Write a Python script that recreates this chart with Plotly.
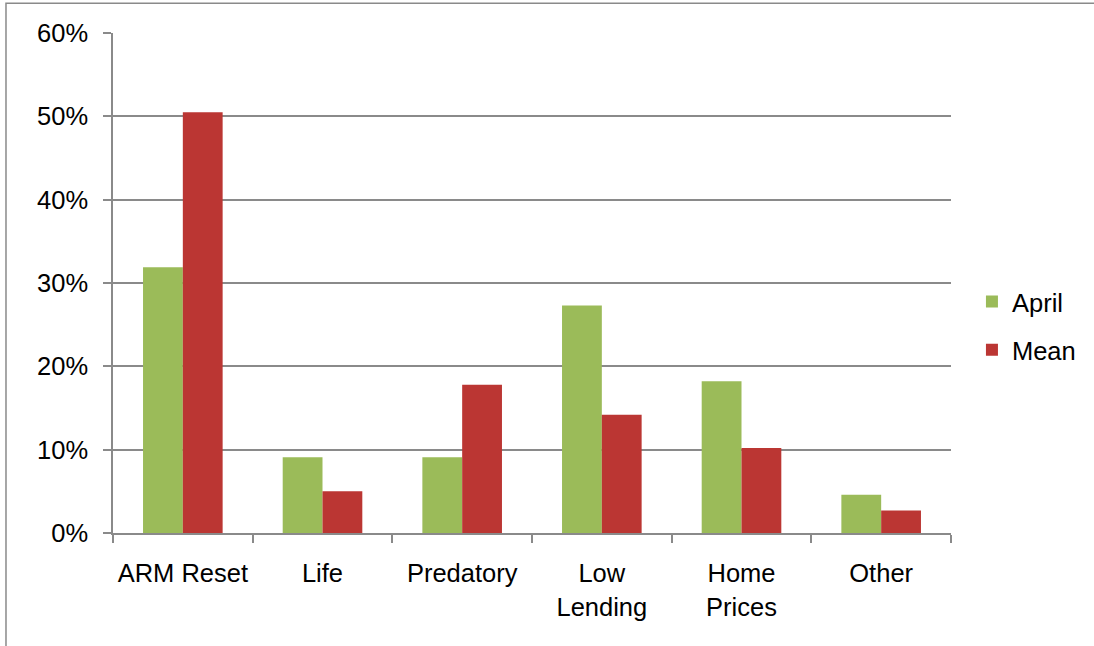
import plotly.graph_objects as go

categories = ["ARM Reset", "Life", "Predatory", "Low<br>Lending", "Home<br>Prices", "Other"]
april = [0.319, 0.091, 0.091, 0.273, 0.182, 0.046]
mean = [0.505, 0.050, 0.178, 0.142, 0.102, 0.027]
y_ticks = [0, 0.1, 0.2, 0.3, 0.4, 0.5, 0.6]
y_tick_labels = ["0%", "10%", "20%", "30%", "40%", "50%", "60%"]

FONT = "Liberation Sans, Arial, sans-serif"
GRID = "#8a8a8a"
FS = 25.5

fig = go.Figure()
fig.add_trace(go.Bar(name="April", x=categories, y=april,
                     marker=dict(color="#9BBB59", line=dict(width=0)),
                     legendgroup="a"))
fig.add_trace(go.Bar(name="Mean", x=categories, y=mean,
                     marker=dict(color="#BB3633", line=dict(width=0)),
                     legendgroup="m"))

fig.update_layout(
    width=1094, height=646,
    margin=dict(l=113, r=143, t=33, b=113, autoexpand=False),
    paper_bgcolor="white", plot_bgcolor="white",
    font=dict(family=FONT, size=FS, color="black"),
    barmode="group", bargap=0.43, bargroupgap=0,
    showlegend=True,
    legend=dict(x=1.025, xanchor="left", y=0.414, yanchor="middle",
                font=dict(size=FS, family=FONT, color="black"),
                traceorder="grouped", tracegroupgap=12,
                bgcolor="rgba(0,0,0,0)"),
    xaxis=dict(showgrid=False, showline=True, linecolor=GRID, linewidth=1.5,
               ticks="outside", tickson="boundaries", ticklen=8, tickcolor=GRID,
               tickwidth=1.5, ticklabelstandoff=17, tickangle=0, automargin=False,
               tickfont=dict(size=FS, family=FONT, color="black")),
    yaxis=dict(range=[0, 0.6], tickvals=y_ticks, ticktext=y_tick_labels,
               showgrid=True, gridcolor=GRID, gridwidth=1.5,
               showline=True, linecolor=GRID, linewidth=1.5,
               ticks="outside", ticklen=8, tickcolor=GRID, tickwidth=1.5,
               zeroline=False, ticklabelstandoff=10, automargin=False,
               tickfont=dict(size=FS, family=FONT, color="black")),
)

# outer chart border (cropped at right and bottom in the reference)
fig.add_shape(type="rect", xref="paper", yref="paper",
              x0=-0.1277, x1=1.2, y0=-0.25, y1=1.0593,
              line=dict(color="#8a8a8a", width=1.5), fillcolor="rgba(0,0,0,0)",
              layer="below")

fig.write_html("out.html", config={"displayModeBar": False},
               post_script="document.body.style.margin='0';")
